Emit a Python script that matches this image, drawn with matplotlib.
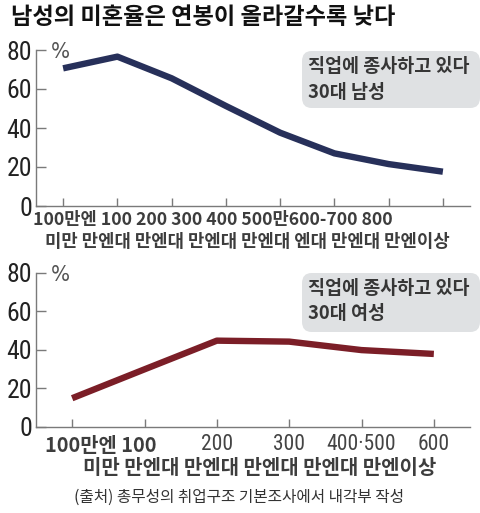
import matplotlib
matplotlib.use("Agg")
import matplotlib.pyplot as plt
from matplotlib.patches import FancyBboxPatch
import matplotlib.transforms as mtransforms

plt.rcParams['font.family'] = ['Noto Sans CJK KR', 'DejaVu Sans']

# ---- data ----
title = "남성의 미혼율은 연봉이 올라갈수록 낮다"
male_cats = ["100만엔 미만", "100만엔대", "200만엔대", "300만엔대", "400만엔대",
             "500만엔대", "600-700만엔대", "800만엔이상"]
male_vals = [70.6, 76.6, 65.5, 51.3, 37.6, 27.0, 21.5, 17.6]
male_row1 = "100만엔 100 200 300 400 500만600-700 800"
male_row2 = "미만 만엔대 만엔대 만엔대 만엔대 엔대 만엔대 만엔이상"
male_note = "직업에 종사하고 있다\n30대 남성"

female_cats = ["100만엔 미만", "100만엔대", "200만엔대", "300만엔대",
               "400·500만엔대", "600만엔이상"]
female_vals = [14.8, 29.8, 44.7, 44.2, 39.8, 37.8]
female_row1_bold = "100만엔 100"
female_tick_labels = ["200", "300", "400·500", "600"]
female_row2 = "미만 만엔대 만엔대 만엔대 만엔대 만엔이상"
female_note = "직업에 종사하고 있다\n30대 여성"

yticks = [0, 20, 40, 60, 80]
unit = "%"
source = "(출처) 총무성의 취업구조 기본조사에서 내각부 작성"

W, H = 480, 513
fig = plt.figure(figsize=(4.8, 5.13), dpi=100)
fig.patch.set_facecolor('white')

def fx(px):
    return px / W

def fy(py):
    return 1 - py / H

NARROW = ['Liberation Sans Narrow', 'Roboto Condensed', 'Archivo Narrow',
          'PT Sans Narrow', 'Pragati Narrow', 'DejaVu Sans']
AX_COL = '#7a7a7a'

def setup_axes(rect, n, vals, color, unit_y):
    ax = fig.add_axes(rect)
    ax.plot(range(n), vals, color=color, lw=4.6, solid_joinstyle='round',
            solid_capstyle='butt', clip_on=False, zorder=3)
    ax.set_xlim(-0.5, n - 0.5)
    ax.set_ylim(0, 80)
    ax.set_yticks(yticks)
    ax.set_yticklabels([str(v) for v in yticks], family=NARROW, fontsize=18.5,
                       color='#222222')
    ax.set_xticks(range(n))
    ax.set_xticklabels([])
    for s in ['top', 'right']:
        ax.spines[s].set_visible(False)
    for s in ['left', 'bottom']:
        ax.spines[s].set_color(AX_COL)
        ax.spines[s].set_linewidth(1.0)
    ax.tick_params(axis='y', direction='in', length=7, width=1.0, color=AX_COL, pad=3)
    ax.tick_params(axis='x', direction='in', length=6, width=1.0, color=AX_COL)
    ax.patch.set_alpha(0)
    fig.text(fx(51), fy(unit_y), unit, family='DejaVu Sans', fontsize=16,
             fontstretch='condensed', color='#555555', va='center', ha='left')
    return ax

ax1 = setup_axes([fx(36), fy(206), fx(470) - fx(36), fy(50) - fy(206)],
                 len(male_cats), male_vals, '#27305a', 52)
ax2 = setup_axes([fx(36), fy(426.7), fx(470) - fx(36), fy(272.7) - fy(426.7)],
                 len(female_cats), female_vals, '#7b1e27', 275)

# title
fig.text(fx(11), fy(17), title, fontsize=16.7, fontweight='bold', color='#111111',
         va='center', ha='left')

LBL = '#3d3d3d'
# male x labels
fig.text(fx(33), fy(220), male_row1, fontsize=12.7, fontweight='bold', color=LBL,
         va='center', ha='left')
fig.text(fx(45), fy(242), male_row2, fontsize=12.8, fontweight='bold', color=LBL,
         va='center', ha='left')

# female x labels
fig.text(fx(45), fy(445), female_row1_bold, fontsize=14.3, fontweight='bold', color=LBL,
         va='center', ha='left')
trans2 = mtransforms.blended_transform_factory(ax2.transData, fig.transFigure)
for i, lab in enumerate(female_tick_labels):
    ax2.text(i + 2, fy(445), lab, transform=trans2, family=NARROW, fontsize=15.5,
             color='#444444', va='center', ha='center')
fig.text(fx(83), fy(468), female_row2, fontsize=14.4, fontweight='bold', color=LBL,
         va='center', ha='left')

# source
fig.text(fx(74), fy(497), source, fontsize=11.3, color='#333333', va='center', ha='left')

# note boxes
def note(x0, y0, x1, y1, txt, ty):
    box = FancyBboxPatch((fx(x0), fy(y1)), fx(x1) - fx(x0), fy(y0) - fy(y1),
                         boxstyle="round,pad=0,rounding_size=0.02",
                         transform=fig.transFigure, facecolor='#dfe1e3',
                         edgecolor='none', zorder=5)
    fig.patches.append(box)
    fig.text(fx(x0 + 6), fy(ty), txt, fontsize=13.3, fontweight='bold', color='#363636',
             va='center', ha='left', linespacing=1.4, zorder=6)

note(302, 51, 480, 108, male_note, 79.5)
note(302, 273, 480, 332, female_note, 301)

fig.savefig("out.png", dpi=100, facecolor='white')
